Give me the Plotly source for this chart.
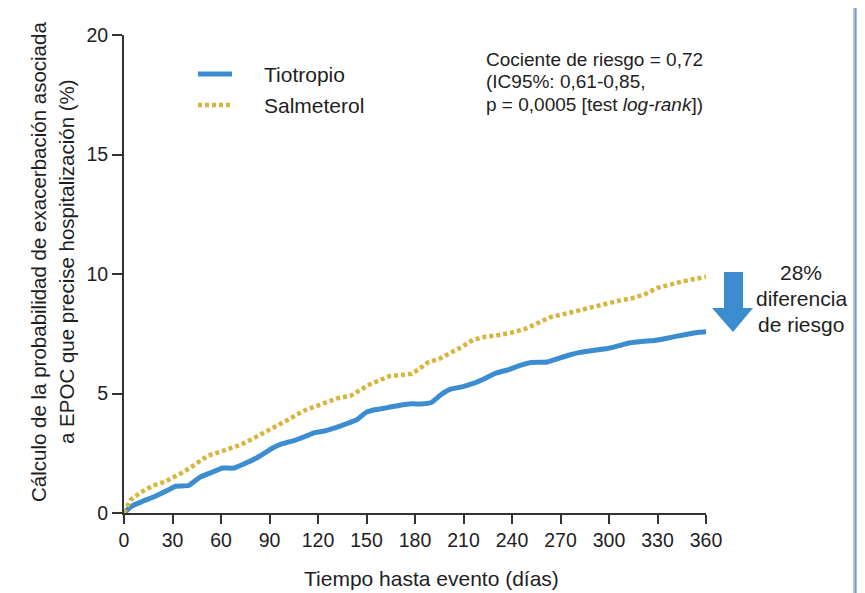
import plotly.graph_objects as go

# ---- data ----
dias_tio = [0, 5, 12, 20, 27, 32, 40, 47, 55, 61, 68, 75, 82, 92, 98, 106, 112, 118, 124, 130,
            137, 144, 150, 156, 163, 170, 178, 184, 190, 196, 202, 209, 216, 223, 230, 238, 245,
            252, 262, 268, 275, 282, 290, 299, 306, 313, 320, 328, 335, 342, 350, 356, 360]
prob_tio = [0, 0.3, 0.5, 0.72, 0.95, 1.12, 1.15, 1.5, 1.72, 1.88, 1.88, 2.08, 2.3, 2.72, 2.9,
            3.05, 3.2, 3.36, 3.43, 3.55, 3.72, 3.9, 4.22, 4.33, 4.41, 4.5, 4.57, 4.56, 4.62, 4.95,
            5.18, 5.28, 5.42, 5.62, 5.85, 6.0, 6.18, 6.3, 6.32, 6.45, 6.6, 6.72, 6.8, 6.88, 7.0,
            7.12, 7.18, 7.22, 7.3, 7.4, 7.5, 7.56, 7.58]

dias_sal = [0, 4, 10, 18, 25, 30, 35, 40, 46, 52, 59, 66, 72, 78, 85, 92, 97, 102, 107, 112,
            118, 125, 132, 140, 146, 152, 158, 164, 171, 178, 183, 188, 195, 203, 209, 216, 224,
            232, 240, 248, 256, 264, 272, 282, 290, 298, 306, 314, 322, 330, 338, 345, 352, 360]
prob_sal = [0, 0.55, 0.85, 1.15, 1.3, 1.45, 1.65, 1.85, 2.15, 2.4, 2.55, 2.7, 2.85, 3.05, 3.3,
            3.52, 3.7, 3.92, 4.12, 4.3, 4.45, 4.65, 4.8, 4.9, 5.15, 5.38, 5.55, 5.72, 5.77, 5.82,
            6.05, 6.3, 6.45, 6.72, 6.95, 7.25, 7.38, 7.45, 7.55, 7.7, 7.95, 8.2, 8.32, 8.48, 8.62,
            8.78, 8.88, 8.98, 9.15, 9.42, 9.58, 9.68, 9.78, 9.88]

x_ticks = [0, 30, 60, 90, 120, 150, 180, 210, 240, 270, 300, 330, 360]
y_ticks = [0, 5, 10, 15, 20]

serie_nombres = ["Tiotropio", "Salmeterol"]
texto_hr = ["Cociente de riesgo = 0,72", "(IC95%: 0,61-0,85,",
            "p = 0,0005 [test <i>log-rank</i>])"]
texto_dif = ["28%", "diferencia", "de riesgo"]
titulo_y = ["Cálculo de la probabilidad de exacerbación asociada",
            "a EPOC que precise hospitalización (%)"]
titulo_x = "Tiempo hasta evento (días)"

# ---- layout geometry (page body has an 8px margin) ----
OFF = 8
WIDTH, HEIGHT = 865 - OFF, 593 - OFF
L, T = 124 - OFF, 35 - OFF
R = WIDTH - (706 - OFF)
B = HEIGHT - (513 - OFF)
PW = WIDTH - L - R
PH = HEIGHT - T - B

def px(x):
    # reference-picture x pixel -> paper fraction
    return (x - OFF - L) / PW

def py(y):
    # reference-picture y pixel -> paper fraction
    return ((HEIGHT - B) - (y - OFF)) / PH

FONT = "Liberation Sans, Arial, sans-serif"
BLUE = "#3b8dd0"
GOLD = "#d9b33c"
TXT = "#1e1e1e"

fig = go.Figure()
fig.add_trace(go.Scatter(x=dias_tio, y=prob_tio, mode="lines", name=serie_nombres[0],
                         line=dict(color=BLUE, width=5, shape="spline", smoothing=0.4),
                         showlegend=False))
fig.add_trace(go.Scatter(x=dias_sal, y=prob_sal, mode="lines", name=serie_nombres[1],
                         line=dict(color=GOLD, width=4.5, dash="4px,3px"),
                         showlegend=False))

shapes = []
# legend samples
shapes.append(dict(type="line", xref="paper", yref="paper", x0=px(198), x1=px(232),
                   y0=py(74), y1=py(74), line=dict(color=BLUE, width=5)))
shapes.append(dict(type="line", xref="paper", yref="paper", x0=px(198), x1=px(232),
                   y0=py(105), y1=py(105), line=dict(color=GOLD, width=4.5, dash="4px,3px")))
# arrow
pts = [(724, 272), (743, 272), (743, 308), (753, 308), (733, 332), (712, 308), (724, 308)]
path = "M " + " L ".join(f"{px(a):.5f},{py(b):.5f}" for a, b in pts) + " Z"
shapes.append(dict(type="path", xref="paper", yref="paper", path=path,
                   fillcolor=BLUE, line=dict(width=0)))
# right border
shapes.append(dict(type="rect", xref="paper", yref="paper", x0=px(853), x1=px(859),
                   y0=py(593), y1=py(OFF), fillcolor="#b4cdef", line=dict(width=0)))
shapes.append(dict(type="line", xref="paper", yref="paper", x0=px(855.5), x1=px(855.5),
                   y0=py(593), y1=py(OFF), line=dict(color="#7f95c8", width=1.5)))

ann = []
for i, name in enumerate(serie_nombres):
    ann.append(dict(x=px(262), y=py(74 + 31 * i), xref="paper", yref="paper", text=name,
                    showarrow=False, xanchor="left", yanchor="middle",
                    font=dict(size=21, color=TXT, family=FONT)))
for i, t in enumerate(texto_hr):
    ann.append(dict(x=px(484), y=py(59 + 22.5 * i), xref="paper", yref="paper", text=t,
                    showarrow=False, xanchor="left", yanchor="middle",
                    font=dict(size=19, color=TXT, family=FONT)))
for i, t in enumerate(texto_dif):
    ann.append(dict(x=px(801), y=py(272 + 26 * i), xref="paper", yref="paper", text=t,
                    showarrow=False, xanchor="center", yanchor="middle",
                    font=dict(size=21, color=TXT, family=FONT)))
for i, t in enumerate(titulo_y):
    ann.append(dict(x=px(38 + 28 * i), y=py(262), xref="paper", yref="paper", text=t,
                    showarrow=False, xanchor="center", yanchor="middle", textangle=-90,
                    font=dict(size=20.5, color=TXT, family=FONT)))
ann.append(dict(x=px(431), y=py(578), xref="paper", yref="paper", text=titulo_x,
                showarrow=False, xanchor="center", yanchor="middle",
                font=dict(size=21, color=TXT, family=FONT)))

fig.update_layout(
    width=WIDTH, height=HEIGHT,
    margin=dict(l=L, r=R, t=T, b=B, pad=0),
    paper_bgcolor="white", plot_bgcolor="white",
    font=dict(family=FONT, color=TXT),
    shapes=shapes, annotations=ann,
    xaxis=dict(range=[0, 360], tickvals=x_ticks, ticktext=[str(v) for v in x_ticks],
               showgrid=False, zeroline=False, showline=True, linecolor="#333333",
               linewidth=2, ticks="outside", ticklen=9, tickwidth=1.5, tickcolor="#333333",
               tickfont=dict(size=19.5, color=TXT, family=FONT)),
    yaxis=dict(range=[0, 20], tickvals=y_ticks, ticktext=[str(v) for v in y_ticks],
               showgrid=False, zeroline=False, showline=True, linecolor="#333333",
               linewidth=2, ticks="outside", ticklen=10, tickwidth=1.5, tickcolor="#333333",
               tickfont=dict(size=19.5, color=TXT, family=FONT)),
)

fig.write_html("out.html")
